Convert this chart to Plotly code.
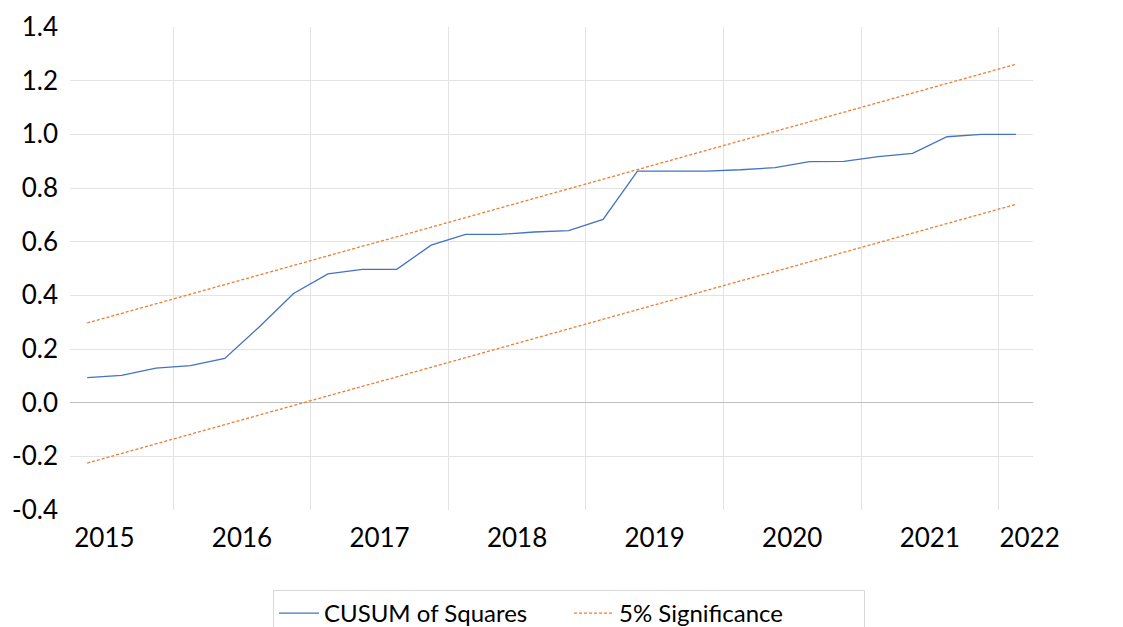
import plotly.graph_objects as go

# Quarterly observations (index positions along the category axis)
cusum = [0.093, 0.102, 0.129, 0.138, 0.165, 0.282, 0.407, 0.480, 0.497, 0.497,
         0.587, 0.627, 0.627, 0.636, 0.641, 0.683, 0.863, 0.863, 0.863, 0.868,
         0.876, 0.898, 0.899, 0.917, 0.929, 0.991, 1.000, 1.000]
upper = [0.297, 0.333, 0.368, 0.404, 0.440, 0.476, 0.511, 0.547, 0.583, 0.618,
         0.654, 0.690, 0.726, 0.761, 0.797, 0.833, 0.868, 0.904, 0.940, 0.976,
         1.011, 1.047, 1.083, 1.118, 1.154, 1.190, 1.226, 1.261]
lower = [-0.225, -0.189, -0.154, -0.118, -0.082, -0.046, -0.011, 0.025, 0.061, 0.096,
         0.132, 0.168, 0.204, 0.239, 0.275, 0.311, 0.346, 0.382, 0.418, 0.454,
         0.489, 0.525, 0.561, 0.596, 0.632, 0.668, 0.704, 0.739]
year_labels = ["2015", "2016", "2017", "2018", "2019", "2020", "2021", "2022"]
year_label_pos = [0.5, 4.5, 8.5, 12.5, 16.5, 20.5, 24.5, 27.4]
year_grid_pos = [2.5, 6.5, 10.5, 14.5, 18.5, 22.5, 26.5]
y_ticks = [-0.4, -0.2, 0.0, 0.2, 0.4, 0.6, 0.8, 1.0, 1.2, 1.4]
y_grid = [-0.2, 0.2, 0.4, 0.6, 0.8, 1.0, 1.2]

x = list(range(len(cusum)))

BLUE = "#4472C4"
ORANGE = "#ED7D31"
FONT = "Lato, 'Open Sans', sans-serif"

# page body adds an 8px offset; margins compensate for it
OFF = 8

fig = go.Figure()
fig.add_trace(go.Scatter(x=x, y=cusum, mode="lines", name="CUSUM of Squares",
                         line=dict(color=BLUE, width=1.3)))
fig.add_trace(go.Scatter(x=x, y=upper, mode="lines", name="5% Significance",
                         line=dict(color=ORANGE, width=1.3, dash="3px,2px")))
fig.add_trace(go.Scatter(x=x, y=lower, mode="lines", name="5% Significance",
                         showlegend=False,
                         line=dict(color=ORANGE, width=1.3, dash="3px,2px")))

fig.update_layout(
    width=1123, height=627,
    margin=dict(l=70 - OFF, r=90 + OFF, t=27 - OFF, b=117 + OFF, autoexpand=False),
    paper_bgcolor="white", plot_bgcolor="white",
    font=dict(family=FONT, color="#000000"),
    showlegend=True,
    legend=dict(orientation="h", xref="container", yref="container",
                x=(273 - OFF) / 1123, y=(627 - (590 - OFF)) / 627,
                xanchor="left", yanchor="top",
                bordercolor="#d9d9d9", borderwidth=1, font=dict(size=24),
                itemwidth=40, tracegroupgap=0,
                entrywidth=240, entrywidthmode="pixels"),
)
fig.update_xaxes(
    range=[-0.5, 27.5], automargin=False,
    tickmode="array", tickvals=year_label_pos, ticktext=year_labels,
    tickfont=dict(size=26), ticks="", ticklabelstandoff=10,
    showgrid=False, zeroline=False, showline=False,
    minor=dict(tickmode="array", tickvals=year_grid_pos, showgrid=True,
               gridcolor="#e3e3e3", gridwidth=1, ticks=""),
)
fig.update_yaxes(
    range=[-0.4, 1.4], automargin=False,
    tickmode="array", tickvals=y_ticks, ticktext=[f"{v:.1f}" for v in y_ticks],
    tickfont=dict(size=26), ticks="", ticklabelstandoff=11,
    showgrid=False, zeroline=True, zerolinecolor="#bfbfbf", zerolinewidth=1.3,
    showline=False,
    minor=dict(tickmode="array", tickvals=y_grid, showgrid=True,
               gridcolor="#e3e3e3", gridwidth=1, ticks=""),
)

fig.write_html("out.html")
